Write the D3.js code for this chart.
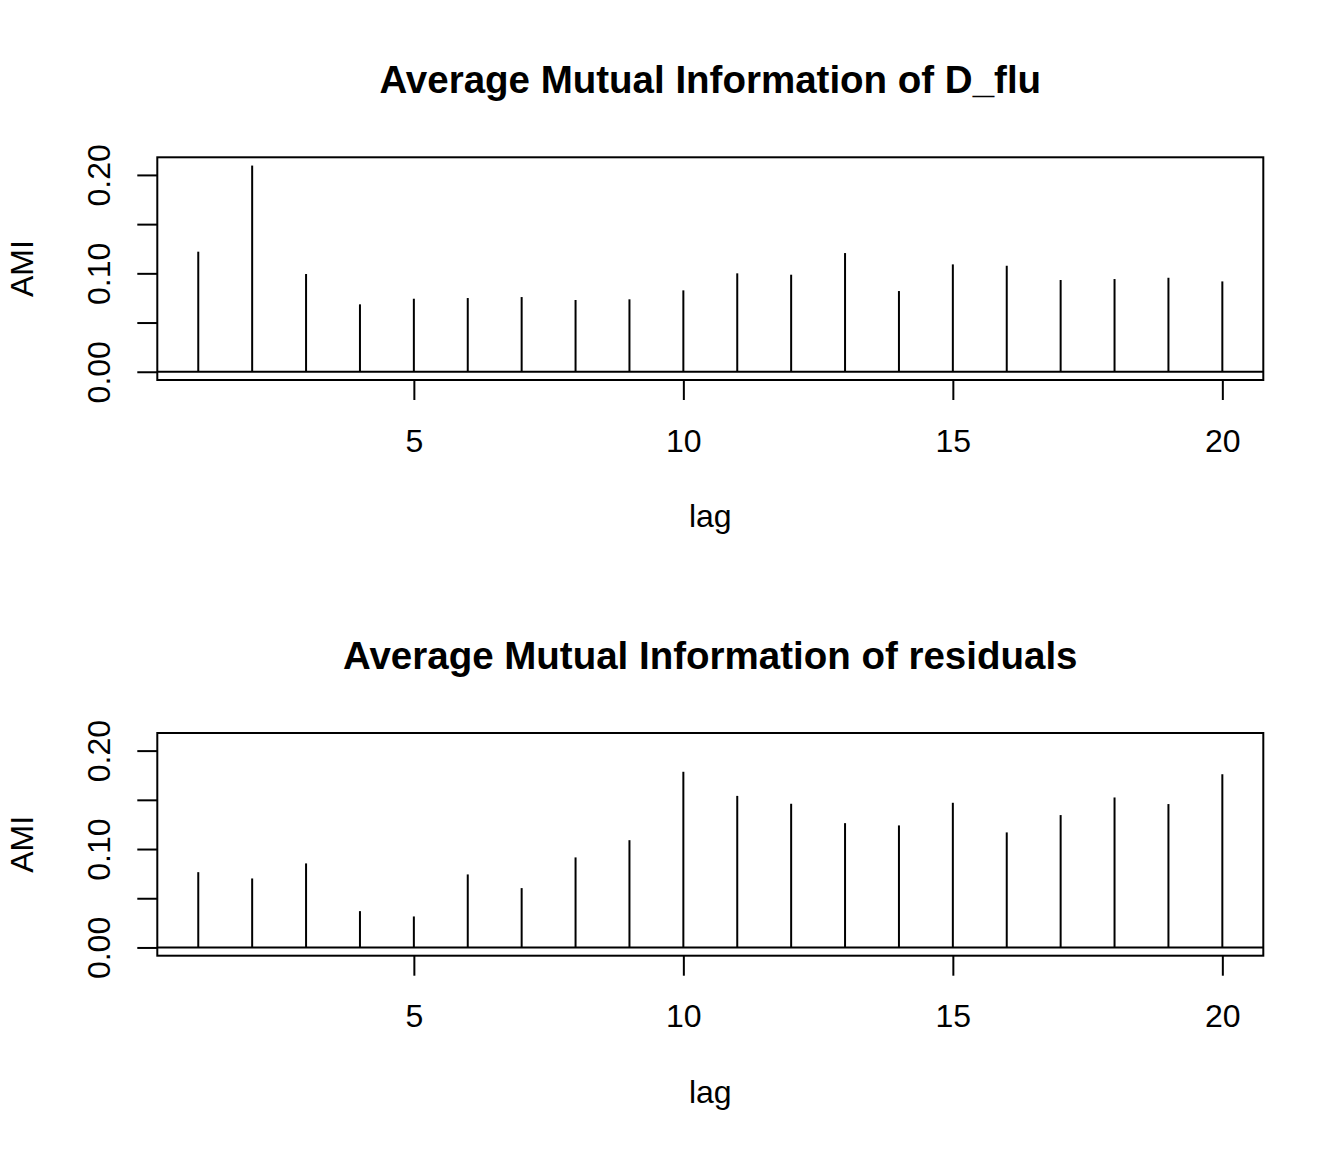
<!DOCTYPE html>
<html><head><meta charset="utf-8">
<script src="https://cdn.jsdelivr.net/npm/d3@7"></script>
<style>body{margin:0;background:#fff}svg{display:block}</style>
</head><body>
<script>
const lags = [1,2,3,4,5,6,7,8,9,10,11,12,13,14,15,16,17,18,19,20];
const amiFlu = [0.122,0.2095,0.0993,0.0685,0.0742,0.0749,0.0759,0.0729,0.0736,0.0827,0.100,0.0986,0.1206,0.0820,0.1091,0.1077,0.0932,0.0942,0.0955,0.0918];
const amiResid = [0.0765,0.0701,0.0854,0.0369,0.0315,0.0742,0.0603,0.0915,0.109,0.1785,0.154,0.146,0.1263,0.124,0.147,0.1169,0.1345,0.1524,0.1457,0.176];
const titles = ["Average Mutual Information of D_flu","Average Mutual Information of residuals"];
const xTicks = [5,10,15,20];
const yTicks = [0,0.05,0.10,0.15,0.20];
const yTickLabels = ["0.00","","0.10","","0.20"];
const xLabel = "lag", yLabel = "AMI";

const W = 1344, H = 1152;
const svg = d3.select("body").append("svg").attr("width", W).attr("height", H);
const font = "'Liberation Sans', Arial, Helvetica, sans-serif";

const panels = [{vals: amiFlu, top: 157.3, title: titles[0]}, {vals: amiResid, top: 733, title: titles[1]}];
const left = 157.3, right = 1263.3, ph = 222.7;

panels.forEach(p => {
  const g = svg.append("g");
  const x = d3.scaleLinear().domain([0.24, 20.76]).range([left, right]);
  const y = d3.scaleLinear().domain([-0.00838, 0.2179]).range([p.top + ph, p.top]);

  // horizontal zero line
  g.append("line").attr("x1", left).attr("x2", right).attr("y1", y(0)).attr("y2", y(0))
    .attr("stroke", "#000").attr("stroke-width", 2);
  // spikes
  g.selectAll("line.spike").data(lags).enter().append("line").attr("class","spike")
    .attr("x1", d => x(d)).attr("x2", d => x(d))
    .attr("y1", y(0)).attr("y2", (d,i) => y(p.vals[i]))
    .attr("stroke", "#000").attr("stroke-width", 2);
  // box
  g.append("rect").attr("x", left).attr("y", p.top).attr("width", right-left).attr("height", ph)
    .attr("fill", "none").attr("stroke", "#000").attr("stroke-width", 2);

  // x axis
  const xa = g.append("g").attr("transform", `translate(0,${p.top+ph})`)
    .call(d3.axisBottom(x).tickValues(xTicks).tickSize(20).tickPadding(29).tickFormat(d3.format("d")));
  xa.select(".domain").remove();
  xa.selectAll("line").attr("stroke-width", 2);
  xa.selectAll("text").attr("font-family", font).attr("font-size", 32).attr("fill", "#000");

  // y axis
  const ya = g.append("g").attr("transform", `translate(${left},0)`)
    .call(d3.axisLeft(y).tickValues(yTicks).tickSize(20).tickFormat((d,i) => yTickLabels[i]));
  ya.select(".domain").remove();
  ya.selectAll("line").attr("stroke-width", 2);
  ya.selectAll("text").remove();
  ya.selectAll(".tick").append("text")
    .attr("transform", "translate(-47.3,0) rotate(-90)")
    .attr("text-anchor", "middle").attr("font-family", font).attr("font-size", 32).attr("fill", "#000")
    .text((d,i) => yTickLabels[i]);

  // title
  g.append("text").attr("x", (left+right)/2).attr("y", p.top - 64.3)
    .attr("text-anchor", "middle").attr("font-family", font).attr("font-weight", "bold")
    .attr("font-size", 38.5).text(p.title);
  // x label
  g.append("text").attr("x", (left+right)/2).attr("y", p.top + ph + 147)
    .attr("text-anchor", "middle").attr("font-family", font).attr("font-size", 32).text(xLabel);
  // y label
  g.append("text").attr("transform", `translate(33,${p.top + ph/2}) rotate(-90)`)
    .attr("text-anchor", "middle").attr("font-family", font).attr("font-size", 32).text(yLabel);
});
</script>
</body></html>
